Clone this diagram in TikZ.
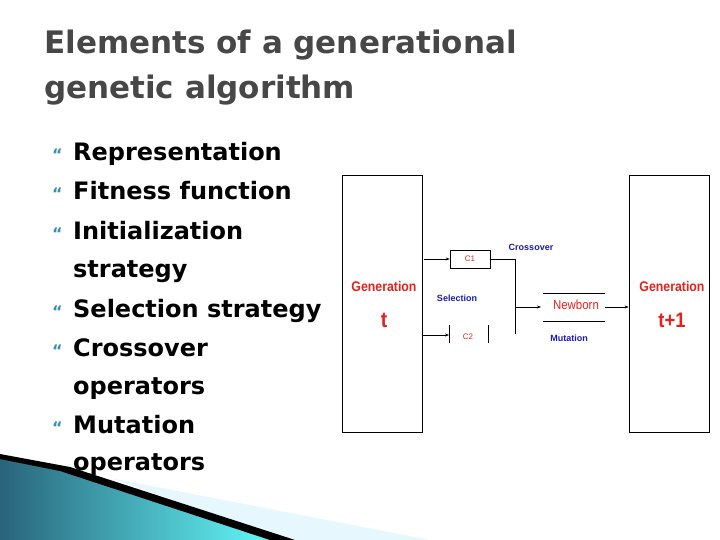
\documentclass[tikz,border=0pt]{standalone}
\usepackage{fontspec}
\setmainfont{DejaVu Sans}
\newfontfamily\arialf{Liberation Sans}
\newfontfamily\djv{DejaVu Sans}
\usetikzlibrary{arrows.meta}
\definecolor{gred}{HTML}{E8201A}
\definecolor{gblue}{HTML}{1A1AB0}
\definecolor{bul}{HTML}{3A8FB0}
\begin{document}
\begin{tikzpicture}[x=1pt,y=-1pt,
  item/.style={anchor=base west,font=\bfseries\fontsize{24}{30}\selectfont,inner sep=0},
  bull/.style={anchor=base west,text=bul,font=\djv\bfseries\fontsize{16}{16}\selectfont,inner sep=0},
  genbox/.style={draw,line width=0.8pt,minimum width=80pt,minimum height=257pt,inner sep=0},
  redt/.style={text=gred,font=\arialf\bfseries\fontsize{14}{15}\selectfont,inner sep=0,xscale=0.88},
  bluet/.style={text=gblue,font=\arialf\bfseries\fontsize{9}{10}\selectfont,inner sep=0},
  arr/.style={-{Stealth[length=4pt,width=3pt]},line width=0.6pt},
  ln/.style={line width=0.6pt}]
\useasboundingbox (0,0) rectangle (720,540);
% decoration
\shade[left color=bul!70!black,right color=cyan!60!white] (0,455) -- (60,468) -- (285,540) -- (0,540) -- cycle;
\fill[cyan!10!white] (110,478) -- (430,540) -- (290,540) -- cycle;
\fill[black] (0,454) -- (70,467) -- (295,540) -- (270,540) -- (60,471) -- (0,459) -- cycle;
% title
\node[anchor=base west,inner sep=0,text=black!72,font=\bfseries\fontsize{31}{34}\selectfont] (t1) at (44,54) {Elements of a generational};
\node[anchor=base west,inner sep=0,text=black!72,font=\bfseries\fontsize{31}{34}\selectfont] (t2) at (44,99) {genetic algorithm};
% bullets
\foreach \y/\t/\b [count=\i] in {152/Representation/1,191/Fitness function/1,231/Initialization/1,268/strategy/0,308/Selection strategy/1,347/Crossover/1,385/operators/0,424/Mutation/1,461/operators/0}{
  \node[item] (it\i) at (73,\y+9) {\t};
  \ifnum\b=1 \node[bull] (b\i) at (52,\y+9) {“};\fi
}
% diagram
\node[genbox] (L) at (382,303.5) {};
\node[genbox] (R) at (669,303.5) {};
\node[redt] (g1) at (384,286) {Generation};
\node[redt,font=\arialf\bfseries\fontsize{22}{24}\selectfont] (g1t) at (384,320) {t};
\node[redt] (g2) at (672,286) {Generation};
\node[redt,font=\arialf\bfseries\fontsize{21}{22}\selectfont] (g2t) at (672,320) {t+1};
\node[draw,ln,minimum width=40pt,minimum height=18pt,inner sep=0,text=gred,font=\arialf\fontsize{8}{9}\selectfont] (c1) at (470,259) {C1};
\coordinate (c1s) at (424,259);
\draw[arr] (c1s) -- (c1.west);
\coordinate (j1) at (515,259);
\coordinate (j2) at (515,334);
\draw[ln] (c1.east) -- (j1) -- (j2);
\coordinate (m) at (515,307);
\coordinate (nb) at (541,307);
\draw[arr] (m) -- (nb);
\coordinate (nl1) at (543,293); \coordinate (nr1) at (605,293);
\coordinate (nl2) at (543,321); \coordinate (nr2) at (605,321);
\draw[ln] (nl1) -- (nr1); \draw[ln] (nl2) -- (nr2);
\node[redt,font=\arialf\fontsize{13}{14}\selectfont] (newb) at (576,305) {Newborn};
\coordinate (ne) at (605,307);
\draw[arr] (ne) -- (R.west |- ne);
\coordinate (c2s) at (422,335); \coordinate (c2w) at (449,335);
\draw[arr] (c2s) -- (c2w);
\coordinate (v1a) at (449,325); \coordinate (v1b) at (449,343);
\coordinate (v2a) at (488,325); \coordinate (v2b) at (488,343);
\draw[ln] (v1a) -- (v1b); \draw[ln] (v2a) -- (v2b);
\begin{scope}
\clip (450,326) rectangle (487,339);
\node[text=gred,font=\arialf\fontsize{8}{9}\selectfont,inner sep=0] (c2) at (468,337) {C2};
\end{scope}
\node[bluet] (sel) at (457,298) {Selection};
\node[bluet] (cro) at (531,247) {Crossover};
\node[bluet] (mut) at (569,338) {Mutation};
\end{tikzpicture}
\end{document}
